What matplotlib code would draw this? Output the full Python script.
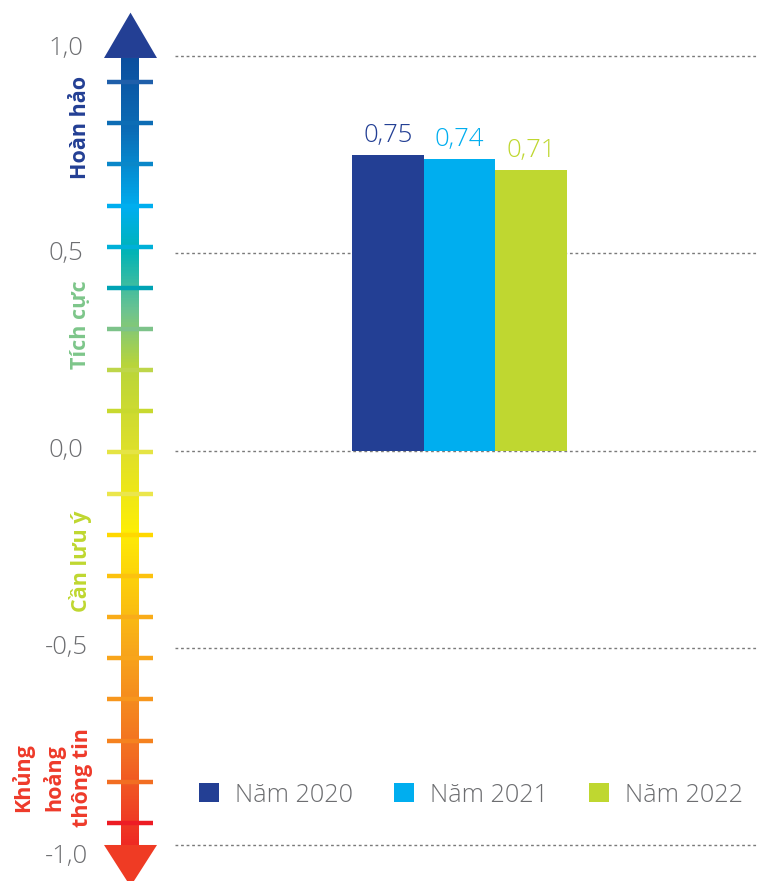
import numpy as np
import matplotlib
matplotlib.use("Agg")
import matplotlib.pyplot as plt
from matplotlib.colors import LinearSegmentedColormap
from matplotlib.patches import Polygon, Patch

plt.rcParams['font.family'] = ['Open Sans', 'DejaVu Sans']

# --- data -------------------------------------------------------------
series_labels = ["Năm 2020", "Năm 2021", "Năm 2022"]
series_values = [0.75, 0.74, 0.71]
value_labels = ["0,75", "0,74", "0,71"]
y_ticks = [1.0, 0.5, 0.0, -0.5, -1.0]
y_tick_labels = ["1,0", "0,5", "0,0", "-0,5", "-1,0"]
zone_labels = ["Hoàn hảo", "Tích cực", "Cần lưu ý", "Khủng\nhoảng\nthông tin"]

# --- style ------------------------------------------------------------
bar_colors = ["#233f94", "#00aeef", "#bfd730"]
zone_colors = ["#233f94", "#7dc68a", "#bfd730", "#ee3a2a"]
zone_y = [0.82, 0.32, -0.28, -0.83]
zone_x = [81, 81, 81, 52]
grey = "#6d6e71"

W, H = 757, 881
fig = plt.figure(figsize=(W / 100, H / 100), dpi=100)
ax = fig.add_axes([0, 0, 1, 1])
ax.set_xlim(0, W)
ax.set_ylim(-1.0913, 1.142)
ax.axis("off")

# dotted grid lines
for t in y_ticks:
    ax.plot([175, W], [t, t], color="#7a7a7a", lw=1.0,
            linestyle=(0, (2, 2)), zorder=1)

# y tick labels
for t, lab in zip(y_ticks, y_tick_labels):
    ax.text(66, t + (0.02 if t > 0.9 else (-0.028 if t < -0.9 else 0.0)),
            lab, ha="center", va="center", fontsize=18.5,
            color=grey, fontweight="light")

# gradient scale arrow
stops = [
    (0.00, "#0b4f9e"), (0.09, "#0b6cb6"), (0.19, "#00aeef"),
    (0.245, "#00b4b6"), (0.32, "#6cc391"), (0.39, "#b9d53a"),
    (0.50, "#dfe02a"), (0.60, "#fdee06"), (0.66, "#fdd20a"),
    (0.75, "#f8a81b"), (0.89, "#f26b22"), (1.00, "#ee2a24"),
]
cmap = LinearSegmentedColormap.from_list("scale", stops)
grad = np.linspace(0, 1, 512).reshape(-1, 1)
ax.imshow(grad, cmap=cmap, extent=[121, 139, -1.0, 0.995],
          aspect="auto", origin="upper", zorder=2, interpolation="bilinear")

ax.add_patch(Polygon([[104, 0.995], [157, 0.995], [130.5, 1.11]],
                     closed=True, color="#233f94", zorder=3, lw=0))
ax.add_patch(Polygon([[104, -1.0], [157, -1.0], [130.5, -1.105]],
                     closed=True, color="#ef3b24", zorder=3, lw=0))

tick_colors = [
    "#1f5faa", "#0d6db5", "#0a87c9", "#00aeef", "#00b0d8", "#00a3b4",
    "#7dc38a", "#bed64a", "#c8d92f", "#e5e444", "#ebe64c", "#ffd800",
    "#fcc20e", "#f9ac19", "#f8a51b", "#f7961d", "#f5821f", "#f26e22",
    "#ed1c24",
]
tick_y = np.linspace(0.934, -0.944, len(tick_colors))
for ty, tc in zip(tick_y, tick_colors):
    ax.plot([107, 153], [ty, ty], color=tc, lw=3.2,
            solid_capstyle="butt", zorder=4)

# zone labels along the scale
for lab, c, zy, zx in zip(zone_labels, zone_colors, zone_y, zone_x):
    ax.text(zx, zy, lab, rotation=90, ha="center", va="center",
            multialignment="center", fontsize=15.5, fontweight="bold",
            color=c, linespacing=1.45)

# grouped bars
group_center = 459.5
bar_w = 71.7
offsets = np.arange(len(series_values)) - (len(series_values) - 1) / 2
bars = ax.bar(group_center + offsets * bar_w, series_values, width=bar_w,
              color=bar_colors, zorder=2)
for b, v, lab, c in zip(bars, series_values, value_labels, bar_colors):
    ax.annotate(lab, (b.get_x() + b.get_width() / 2, v),
                xytext=(0, 5), textcoords="offset points",
                ha="center", va="bottom", fontsize=18.5,
                color=c, fontweight="light")

handles = [Patch(facecolor=c, edgecolor="none") for c in bar_colors]
leg = fig.legend(handles, series_labels, loc="center",
                 bbox_to_anchor=(471 / W, 1 - 795 / H), ncol=3,
                 frameon=False, fontsize=18.2, handlelength=0.79,
                 handleheight=0.79, handletextpad=0.63, columnspacing=1.64)
for t in leg.get_texts():
    t.set_color(grey)
    t.set_fontweight("light")

fig.savefig("out.png", dpi=100)
